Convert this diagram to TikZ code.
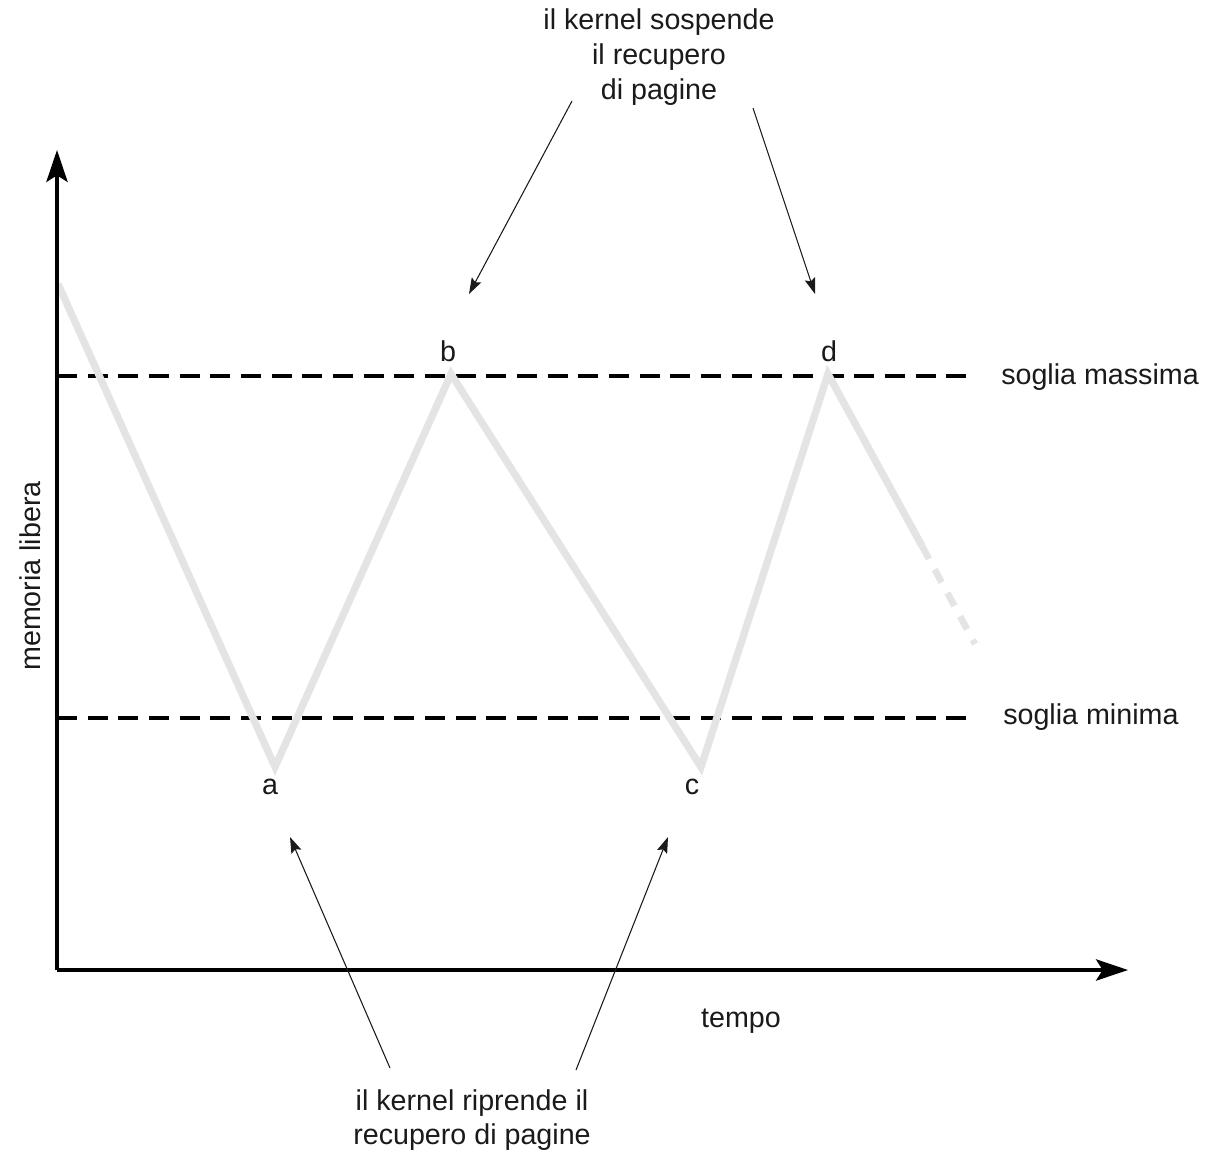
\documentclass[tikz,border=0pt]{standalone}
\usepackage{fontspec}
\setmainfont{Liberation Sans}
\usetikzlibrary{arrows.meta}
\definecolor{txt}{HTML}{1A1A1A}
\definecolor{curve}{HTML}{E4E4E4}
\begin{document}
\begin{tikzpicture}[x=0.75pt,y=-0.75pt,
  lbl/.style={font=\fontsize{21.5}{26}\selectfont, text=txt, inner sep=0pt},
  axisline/.style={line width=2.3pt, -{Stealth[length=24pt,width=16pt,inset=5pt]}},
  threshold/.style={line width=2.3pt, dash pattern=on 15pt off 8pt},
  memcurve/.style={line width=5.5pt, curve, line join=miter},
  note/.style={line width=0.8pt, txt, -{Stealth[length=12pt,width=8pt,inset=2pt]}}]
\useasboundingbox (0,0) rectangle (1225,1153);
% axes
\coordinate (O) at (57,970);
\coordinate (ytip) at (57,150);
\coordinate (xtip) at (1128,970);
% thresholds
\coordinate (maxL) at (57,376);
\coordinate (maxR) at (975,376);
\coordinate (minL) at (57,718);
\coordinate (minR) at (975,718);
\draw[threshold] (maxL) -- (maxR);
\draw[threshold] (minL) -- (minR);
% memory curve
\coordinate (p0) at (58,284);
\coordinate (pa) at (275,767);
\coordinate (pb) at (451,374);
\coordinate (pc) at (701,767);
\coordinate (pd) at (828,374);
\coordinate (pe) at (922,546);
\coordinate (pf) at (975,644);
\draw[memcurve] (p0) -- (pa) -- (pb) -- (pc) -- (pd) -- (pe);
\draw[memcurve, line width=5pt, dash pattern=on 11pt off 9pt] (pe) -- (pf);
\draw[axisline] (O) -- (ytip);
\draw[axisline] (O) -- (xtip);
% labels
\node[lbl] (la) at (270,787) {a};
\node[lbl] (lb) at (448,351) {b};
\node[lbl] (lc) at (692,787) {c};
\node[lbl] (ld) at (829,351) {d};
\node[lbl, anchor=west] (smax) at (1001,377) {soglia massima};
\node[lbl, anchor=west] (smin) at (1003,717) {soglia minima};
\node[lbl] (tempo) at (741,1021) {tempo};
\node[lbl, rotate=90] (mem) at (30,576) {memoria libera};
\node[lbl, align=center] (top) at (659,57) {il kernel sospende\\il recupero\\di pagine};
\node[lbl, align=center] (bot) at (472,1120) {il kernel riprende il\\recupero di pagine};
% annotation arrows
\coordinate (t1s) at (572,101);
\coordinate (t1e) at (469,294);
\coordinate (t2s) at (753,108);
\coordinate (t2e) at (815,294);
\coordinate (b1s) at (390,1068);
\coordinate (b1e) at (290,837);
\coordinate (b2s) at (576,1070);
\coordinate (b2e) at (668,837);
\draw[note] (t1s) -- (t1e);
\draw[note] (t2s) -- (t2e);
\draw[note] (b1s) -- (b1e);
\draw[note] (b2s) -- (b2e);
\end{tikzpicture}
\end{document}
